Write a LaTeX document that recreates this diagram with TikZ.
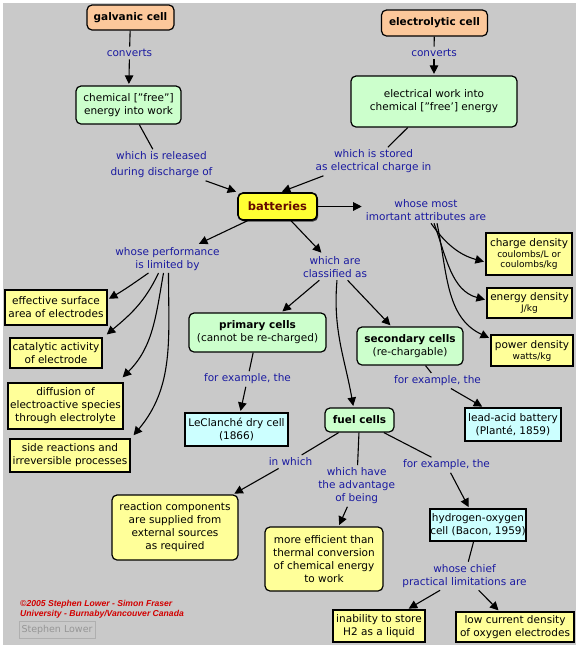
\documentclass[tikz,border=0pt]{standalone}
\usepackage{fontspec}
\setmainfont{DejaVu Sans}
\newfontfamily\crfont{Liberation Sans}
\usetikzlibrary{arrows.meta,shadows}
\definecolor{bgc}{RGB}{201,201,201}
\definecolor{lblue}{RGB}{26,26,160}
\definecolor{gfill}{RGB}{204,255,204}
\definecolor{ofill}{RGB}{252,200,155}
\definecolor{yfill}{RGB}{255,255,153}
\definecolor{cfill}{RGB}{204,255,255}
\definecolor{bfill}{RGB}{255,255,51}
\definecolor{btext}{RGB}{100,10,0}
\definecolor{crred}{RGB}{210,0,0}
\newcommand\smtxt{\fontsize{9}{10}\selectfont}
\begin{document}
\begin{tikzpicture}[x=1pt,y=1pt,
  every node/.style={font=\fontsize{10.5}{13}\selectfont, align=center, inner sep=0pt},
  sbox/.style={draw=black, line width=1.2pt},
  rbox/.style={sbox, rounded corners=5pt},
  gbox/.style={rbox, fill=gfill},
  obox/.style={rbox, fill=ofill, font=\fontsize{10.5}{13}\selectfont\bfseries},
  ybox/.style={sbox, fill=yfill},
  yrbox/.style={rbox, fill=yfill},
  cbox/.style={sbox, fill=cfill},
  lbl/.style={text=lblue, inner sep=2.5pt},
  con/.style={line width=1.1pt},
  arr/.style={con, -{Triangle[length=8.5pt,width=8.5pt]}, shorten >=1.5pt},
]
\useasboundingbox (0,0) rectangle (576,-649);
\fill[white] (0,0) rectangle (576,-649);
\fill[bgc] (3,-3) rectangle (576,-645);

% concept nodes
\node[obox, minimum width=87pt, minimum height=25pt] (gal) at (130.5,-17.5) {galvanic cell};
\node[obox, minimum width=106pt, minimum height=26pt] (elec) at (434.5,-23) {electrolytic cell};
\node[gbox, minimum width=105pt, minimum height=38pt] (chem) at (128.5,-105) {chemical ["free"]\\energy into work};
\node[gbox, minimum width=166pt, minimum height=51pt] (elwork) at (434,-101.5) {electrical work into\\chemical ["free'] energy};
\node[rbox, fill=bfill, line width=1.6pt, minimum width=79pt, minimum height=27pt, text=btext,
  font=\fontsize{11.5}{13}\selectfont\bfseries,
  drop shadow={shadow xshift=1.2pt, shadow yshift=-1.5pt, fill=black!75, opacity=1}] (bat) at (277.5,-206.5) {batteries};
\node[ybox, minimum width=86pt, minimum height=42pt] (charge) at (529,-254) {charge density\\[-2pt]{\smtxt coulombs/L or}\\[-3pt]{\smtxt coulombs/kg}};
\node[ybox, minimum width=85pt, minimum height=30pt] (energy) at (529.5,-303) {energy density\\[-2pt]{\smtxt J/kg}};
\node[ybox, minimum width=82pt, minimum height=31pt] (power) at (532,-350.5) {power density\\[-2pt]{\smtxt watts/kg}};
\node[ybox, minimum width=102pt, minimum height=35pt] (eff) at (56,-307.5) {effective surface\\area of electrodes};
\node[ybox, minimum width=92pt, minimum height=30pt] (cat) at (56,-353) {catalytic activity\\of electrode};
\node[ybox, minimum width=115pt, minimum height=46pt] (diff) at (65.5,-406) {diffusion of\\electroactive species\\through electrolyte};
\node[ybox, minimum width=120pt, minimum height=33pt] (side) at (70,-455.5) {side reactions and\\irreversible processes};
\node[gbox, minimum width=137pt, minimum height=39pt] (prim) at (257.5,-332.5) {\textbf{primary cells}\\(cannot be re-charged)};
\node[cbox, minimum width=103pt, minimum height=33pt] (lecl) at (236.5,-429.5) {LeClanché dry cell\\(1866)};
\node[gbox, minimum width=106pt, minimum height=38pt] (sec) at (410,-346) {\textbf{secondary cells}\\(re-chargable)};
\node[cbox, minimum width=96pt, minimum height=33pt] (lead) at (513,-424.5) {lead-acid battery\\(Planté, 1859)};
\node[gbox, minimum width=69pt, minimum height=24pt, font=\fontsize{10.5}{13}\selectfont\bfseries] (fuel) at (359.5,-420) {fuel cells};
\node[yrbox, minimum width=126pt, minimum height=65pt] (react) at (175,-527.5) {reaction components\\are supplied from\\external sources\\as required};
\node[yrbox, minimum width=118pt, minimum height=64pt] (moreff) at (324,-559) {more efficient than\\thermal conversion\\of chemical energy\\to work};
\node[cbox, minimum width=96pt, minimum height=32pt] (hydro) at (478,-525) {hydrogen-oxygen\\cell (Bacon, 1959)};
\node[ybox, minimum width=92pt, minimum height=32pt] (inab) at (379,-626) {inability to store\\H2 as a liquid};
\node[ybox, minimum width=118pt, minimum height=30pt] (lowcur) at (515,-627) {low current density\\of oxygen electrodes};

% linking phrases
\node[lbl] (conv1) at (129.5,-53) {converts};
\node[lbl] (conv2) at (434,-53) {converts};
\node[lbl] (rel) at (161.5,-165) {which is released\\[3pt]during discharge of};
\node[lbl] (stored) at (373.5,-161.5) {which is stored\\as electrical charge in};
\node[lbl] (attrs) at (426,-210) {whose most\\imortant attributes are};
\node[lbl] (perf) at (167.5,-258.7) {whose performance\\is limited by};
\node[lbl] (class) at (335,-267) {which are\\classified as};
\node[lbl] (forex1) at (247.5,-379) {for example, the};
\node[lbl] (forex2) at (437.5,-380.7) {for example, the};
\node[lbl] (inwhich) at (290.5,-461.7) {in which};
\node[lbl] (adv) at (356.7,-486) {which have\\the advantage\\of being};
\node[lbl] (forex3) at (446.5,-465) {for example, the};
\node[lbl] (chief) at (464.5,-576) {whose chief\\practical limitations are};

% connectors
\draw[con] (gal) -- (conv1);
\draw[arr] (conv1) -- (chem);
\draw[con] (elec) -- (conv2);
\draw[arr] (conv2) -- (elwork);
\draw[con] (chem) -- (rel);
\draw[arr] (rel) -- (bat);
\draw[con] (elwork) -- (stored);
\draw[arr] ([xshift=-50pt]stored.south) -- ([xshift=3pt]bat.north);
\draw[arr] (bat.east) -- (bat.east -| attrs.west);
\draw[arr] ([xshift=5pt]attrs.south) to[out=-55,in=165] ([yshift=-8pt]charge.west);
\draw[arr] ([xshift=8pt]attrs.south) to[out=-70,in=165] ([yshift=3pt]energy.west);
\draw[arr] ([xshift=11pt]attrs.south) to[out=-78,in=155] ([yshift=12pt]power.west);
\draw[arr] (bat) -- (perf);
\draw[arr] ([xshift=-19pt]perf.south) to[out=-145,in=30] ([yshift=8pt]eff.east);
\draw[arr] ([xshift=-9pt]perf.south) to[out=-115,in=40] ([xshift=3pt,yshift=2pt]cat.north east);
\draw[arr] ([xshift=-4pt]perf.south) to[out=-100,in=45] ([xshift=-2pt,yshift=4pt]diff.north east);
\draw[arr] ([xshift=1pt]perf.south) to[out=-90,in=50] ([xshift=2pt,yshift=2pt]side.north east);
\draw[arr] (bat) -- (class);
\draw[arr] (class) -- (prim);
\draw[arr] (class) -- (sec);
\draw[arr] ([xshift=2pt]class.south) to[out=-95,in=100] ([xshift=-6pt]fuel.north);
\draw[con] (prim) -- (forex1);
\draw[arr] (forex1) -- (lecl);
\draw[con] (sec) -- (forex2);
\draw[arr] (forex2) -- (lead);
\draw[con] (fuel) -- (inwhich);
\draw[arr] (inwhich) -- (react);
\draw[con] (fuel) -- (adv);
\draw[arr] (adv) -- (moreff);
\draw[con] (fuel) -- (forex3);
\draw[arr] (forex3) -- (hydro);
\draw[con] (hydro) -- (chief);
\draw[arr] (chief) -- (inab);
\draw[arr] (chief) -- (lowcur);

% credits
\node[anchor=west, align=left, text=crred, font={\crfont\fontsize{8.6}{10}\selectfont\bfseries\itshape}] (cr) at (20,-609) {©2005 Stephen Lower - Simon Fraser\\University - Burnaby/Vancouver Canada};
\node[draw={rgb,255:red,175;green,175;blue,175}, line width=1pt, minimum width=76pt, minimum height=17pt,
  text={rgb,255:red,150;green,150;blue,150}, font=\fontsize{9.5}{11}\selectfont] (sl) at (57,-629.5) {Stephen Lower};
\end{tikzpicture}
\end{document}
